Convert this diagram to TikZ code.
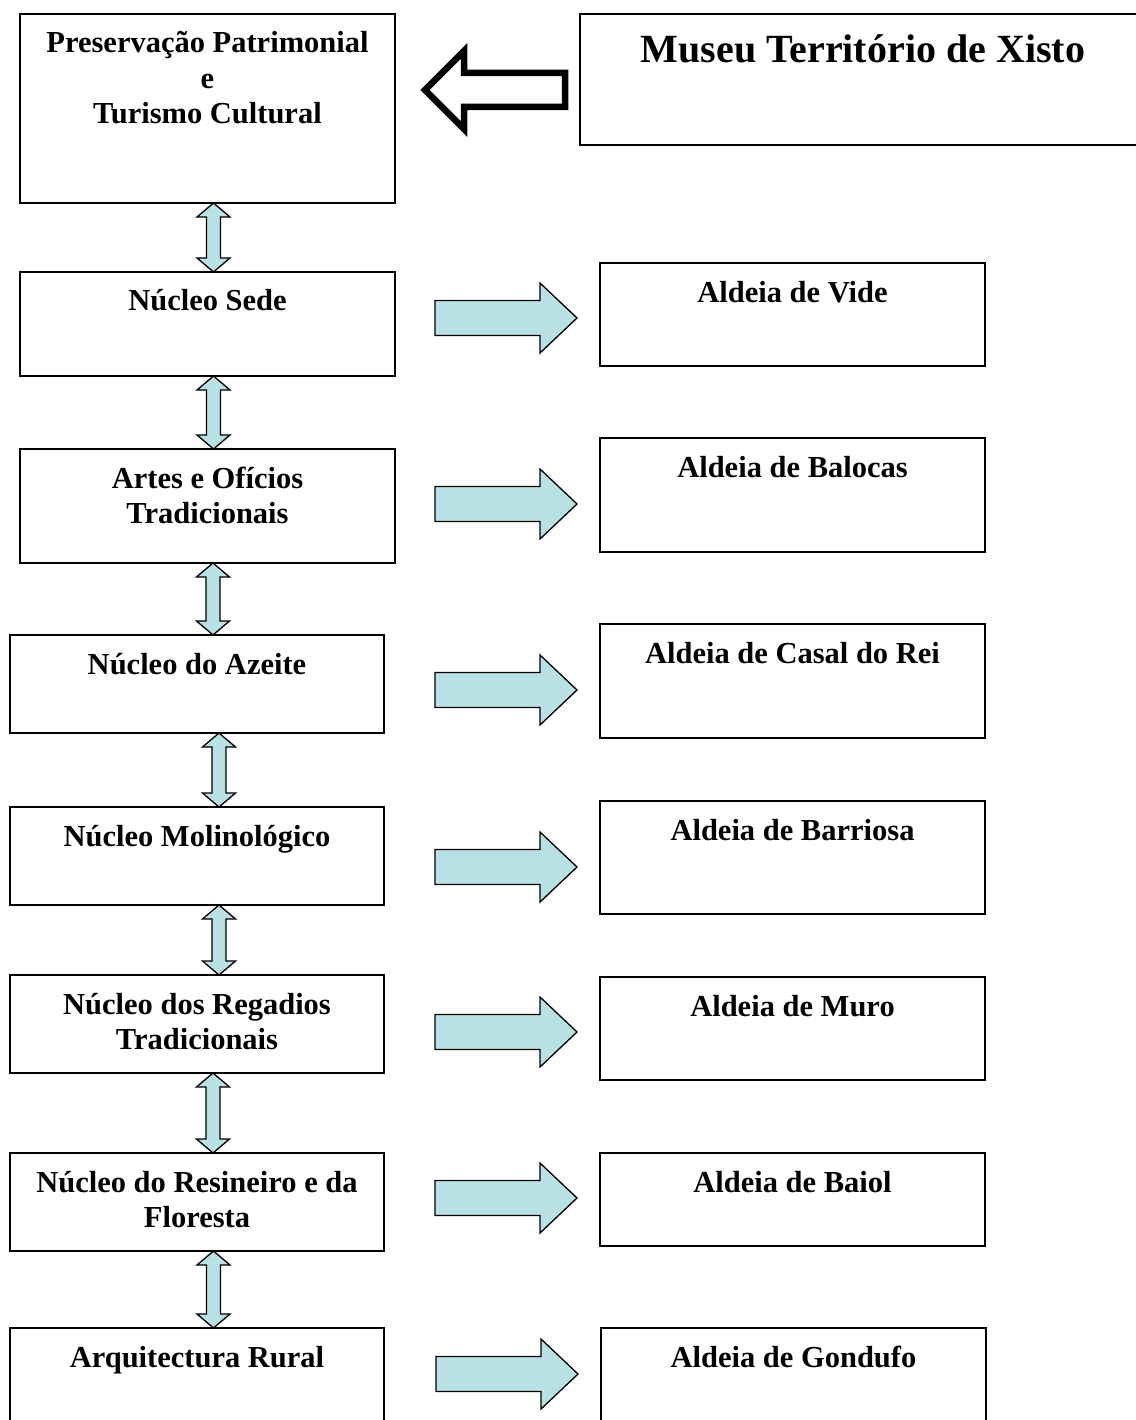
\documentclass[tikz,border=0pt]{standalone}
\usepackage{fontspec}
\setmainfont{Liberation Serif}
\usetikzlibrary{calc}

\definecolor{lb}{RGB}{185,224,228}

\tikzset{
  box/.style 2 args={draw, line width=1.4pt, outer sep=0pt, anchor=north west,
    align=flush center, font=\fontsize{30.5pt}{35.5pt}\selectfont\bfseries,
    text width=#1pt, inner xsep=0pt, inner ysep=18pt,
    text height=21pt, text depth={#2pt-57pt}},
  updown/.style={draw, line width=1.3pt, fill=lb, line join=miter},
  rightarr/.style={draw, line width=1.3pt, fill=lb, line join=miter},
  hollow/.style={draw, line width=6.5pt, fill=white, line join=miter}
}

% double arrow between two boxes of the left column: top node, bottom node, x
\newcommand{\updownlink}[3]{%
  \draw[updown] let \p1=(#1.south), \p2=(#2.north) in
    ({#3pt},{\y1}) -- ({#3pt+16.5pt},{\y1-14pt}) -- ({#3pt+7pt},{\y1-14pt})
    -- ({#3pt+7pt},{\y2+14pt}) -- ({#3pt+16.5pt},{\y2+14pt}) -- ({#3pt},{\y2})
    -- ({#3pt-16.5pt},{\y2+14pt}) -- ({#3pt-7pt},{\y2+14pt})
    -- ({#3pt-7pt},{\y1-14pt}) -- ({#3pt-16.5pt},{\y1-14pt}) -- cycle;}

% block arrow pointing at a box of the right column: target node, y
\newcommand{\rightlink}[2]{%
  \draw[rightarr] let \p2=(#1.west) in
    ({\x2-165pt},{-#2pt+17.5pt}) -- ({\x2-60pt},{-#2pt+17.5pt})
    -- ({\x2-60pt},{-#2pt+35pt}) -- ({\x2-23pt},{-#2pt})
    -- ({\x2-60pt},{-#2pt-35pt}) -- ({\x2-60pt},{-#2pt-17.5pt})
    -- ({\x2-165pt},{-#2pt-17.5pt}) -- cycle;}

\begin{document}
\begin{tikzpicture}[x=1pt,y=-1pt]
    \useasboundingbox (0,0) rectangle (1135,1420);

    % top row %
    \node[box={375}{189}] (pres) at (20,14) {Preservação Patrimonial\\e\\Turismo Cultural};
    \node[box={566}{131}, font=\fontsize{40pt}{46pt}\selectfont\bfseries,
      inner ysep=22pt, text height=27pt, text depth=60pt] (museu) at (580,14) {Museu Território de Xisto};
    \draw[hollow] let \p1=(pres.east), \p2=(museu.west) in
      ({\x1+30pt},-90pt) -- ({\x1+69pt},-51pt) -- ({\x1+69pt},-73pt) -- ({\x2-15pt},-73pt)
      -- ({\x2-15pt},-107pt) -- ({\x1+69pt},-107pt) -- ({\x1+69pt},-129pt) -- cycle;

    % left column %
    \node[box={375}{104}] (sede) at (20,272) {Núcleo Sede};
    \node[box={375}{114}] (artes) at (20,449) {Artes e Ofícios\\Tradicionais};
    \node[box={374}{98}] (azeite) at (10,635) {Núcleo do Azeite};
    \node[box={374}{98}] (molino) at (10,807) {Núcleo Molinológico};
    \node[box={374}{98}] (regad) at (10,975) {Núcleo dos Regadios\\Tradicionais};
    \node[box={374}{98}] (resin) at (10,1153) {Núcleo do Resineiro e da\\Floresta};
    \node[box={374}{120}] (arqui) at (10,1328) {Arquitectura Rural};

    % right column %
    \node[box={385}{103}] (vide) at (600,263) {Aldeia de Vide};
    \node[box={385}{114}] (balocas) at (600,438) {Aldeia de Balocas};
    \node[box={385}{114}] (casal) at (600,624) {Aldeia de Casal do Rei};
    \node[box={385}{113}] (barriosa) at (600,801) {Aldeia de Barriosa};
    \node[box={385}{103}] (muro) at (600,977) {Aldeia de Muro};
    \node[box={385}{93}] (baiol) at (600,1153) {Aldeia de Baiol};
    \node[box={385}{120}] (gondufo) at (601,1328) {Aldeia de Gondufo};

    % links %
    \updownlink{pres}{sede}{213.5}
    \updownlink{sede}{artes}{213.5}
    \updownlink{artes}{azeite}{213}
    \updownlink{azeite}{molino}{219}
    \updownlink{molino}{regad}{219}
    \updownlink{regad}{resin}{213}
    \updownlink{resin}{arqui}{213.5}

    \rightlink{vide}{318}
    \rightlink{balocas}{504}
    \rightlink{casal}{690}
    \rightlink{barriosa}{867}
    \rightlink{muro}{1032}
    \rightlink{baiol}{1198}
    \rightlink{gondufo}{1374}
\end{tikzpicture}
\end{document}
